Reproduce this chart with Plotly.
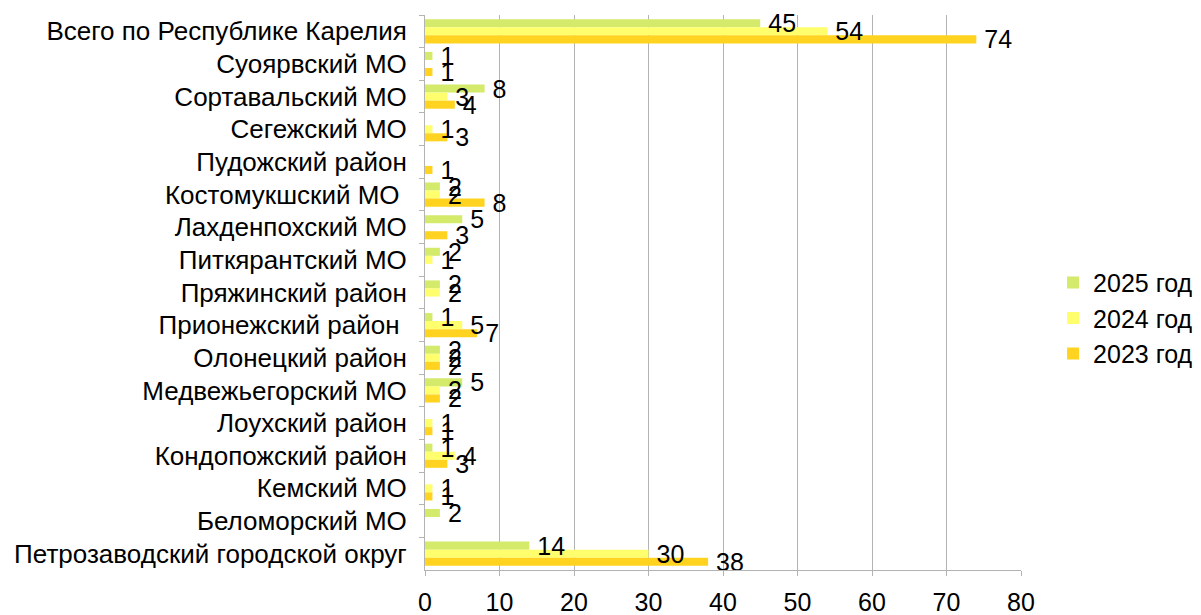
import plotly.graph_objects as go

categories = [
    "Всего по Республике Карелия",
    "Суоярвский МО",
    "Сортавальский МО",
    "Сегежский МО",
    "Пудожский район",
    "Костомукшский МО ",
    "Лахденпохский МО",
    "Питкярантский МО",
    "Пряжинский район",
    "Прионежский район ",
    "Олонецкий район",
    "Медвежьегорский МО",
    "Лоухский район",
    "Кондопожский район",
    "Кемский МО",
    "Беломорский МО",
    "Петрозаводский городской округ",
]

v2025 = [45, 1, 8, None, None, 2, 5, 2, 2, 1, 2, 5, None, 1, None, 2, 14]
v2024 = [54, None, 3, 1, None, 2, None, 1, 2, 5, 2, 2, 1, 4, 1, None, 30]
v2023 = [74, 1, 4, 3, 1, 8, 3, None, None, 7, 2, 2, 1, 3, 1, None, 38]

series = [
    ("2025 год", v2025, "#d4ea6b", "g2025"),
    ("2024 год", v2024, "#ffff6d", "g2024"),
    ("2023 год", v2023, "#ffd320", "g2023"),
]

FONT = "Liberation Sans"

fig = go.Figure()
# coloured bars
for name, vals, color, grp in series:
    fig.add_trace(go.Bar(
        y=categories,
        x=vals,
        name=name,
        orientation="h",
        offsetgroup=grp,
        marker=dict(color=color, line=dict(width=0)),
        hoverinfo="x+name",
    ))
# value labels drawn on top of all bars (transparent twins in same slot)
for name, vals, color, grp in series:
    fig.add_trace(go.Bar(
        y=categories,
        x=vals,
        name=name,
        orientation="h",
        offsetgroup=grp,
        showlegend=False,
        hoverinfo="skip",
        marker=dict(color="rgba(0,0,0,0)", line=dict(width=0)),
        text=[("" if v is None else "\u2009" + str(v)) for v in vals],
        textposition="outside",
        constraintext="none",
        cliponaxis=False,
        textfont=dict(family=FONT, size=25, color="black"),
    ))

fig.update_layout(
    width=1193,
    height=607,
    margin=dict(l=417, r=180, t=7, b=45, autoexpand=False),
    barmode="group",
    bargap=0.26,
    bargroupgap=0,
    plot_bgcolor="white",
    paper_bgcolor="white",
    font=dict(family=FONT, size=24, color="black"),
    legend=dict(
        xref="container", yref="container",
        x=0.876, y=0.489, xanchor="left", yanchor="middle",
        font=dict(family=FONT, size=25, color="black"),
        tracegroupgap=0,
        itemwidth=30,
    ),
    showlegend=True,
)

fig.update_xaxes(
    range=[0, 80],
    dtick=10,
    showgrid=True,
    gridcolor="#b3b3b3",
    gridwidth=1,
    showline=True,
    linecolor="#b3b3b3",
    ticks="outside",
    ticklen=5,
    tickcolor="#b3b3b3",
    zeroline=False,
    automargin=False,
    ticklabelstandoff=5,
    tickfont=dict(family=FONT, size=25, color="black"),
)

fig.update_yaxes(
    autorange="reversed",
    showgrid=False,
    showline=True,
    linecolor="#b3b3b3",
    ticks="outside",
    tickson="boundaries",
    ticklen=5,
    tickcolor="#b3b3b3",
    automargin=False,
    tickfont=dict(family=FONT, size=26, color="black"),
    ticklabelstandoff=12,
)

fig.write_html("out.html")
